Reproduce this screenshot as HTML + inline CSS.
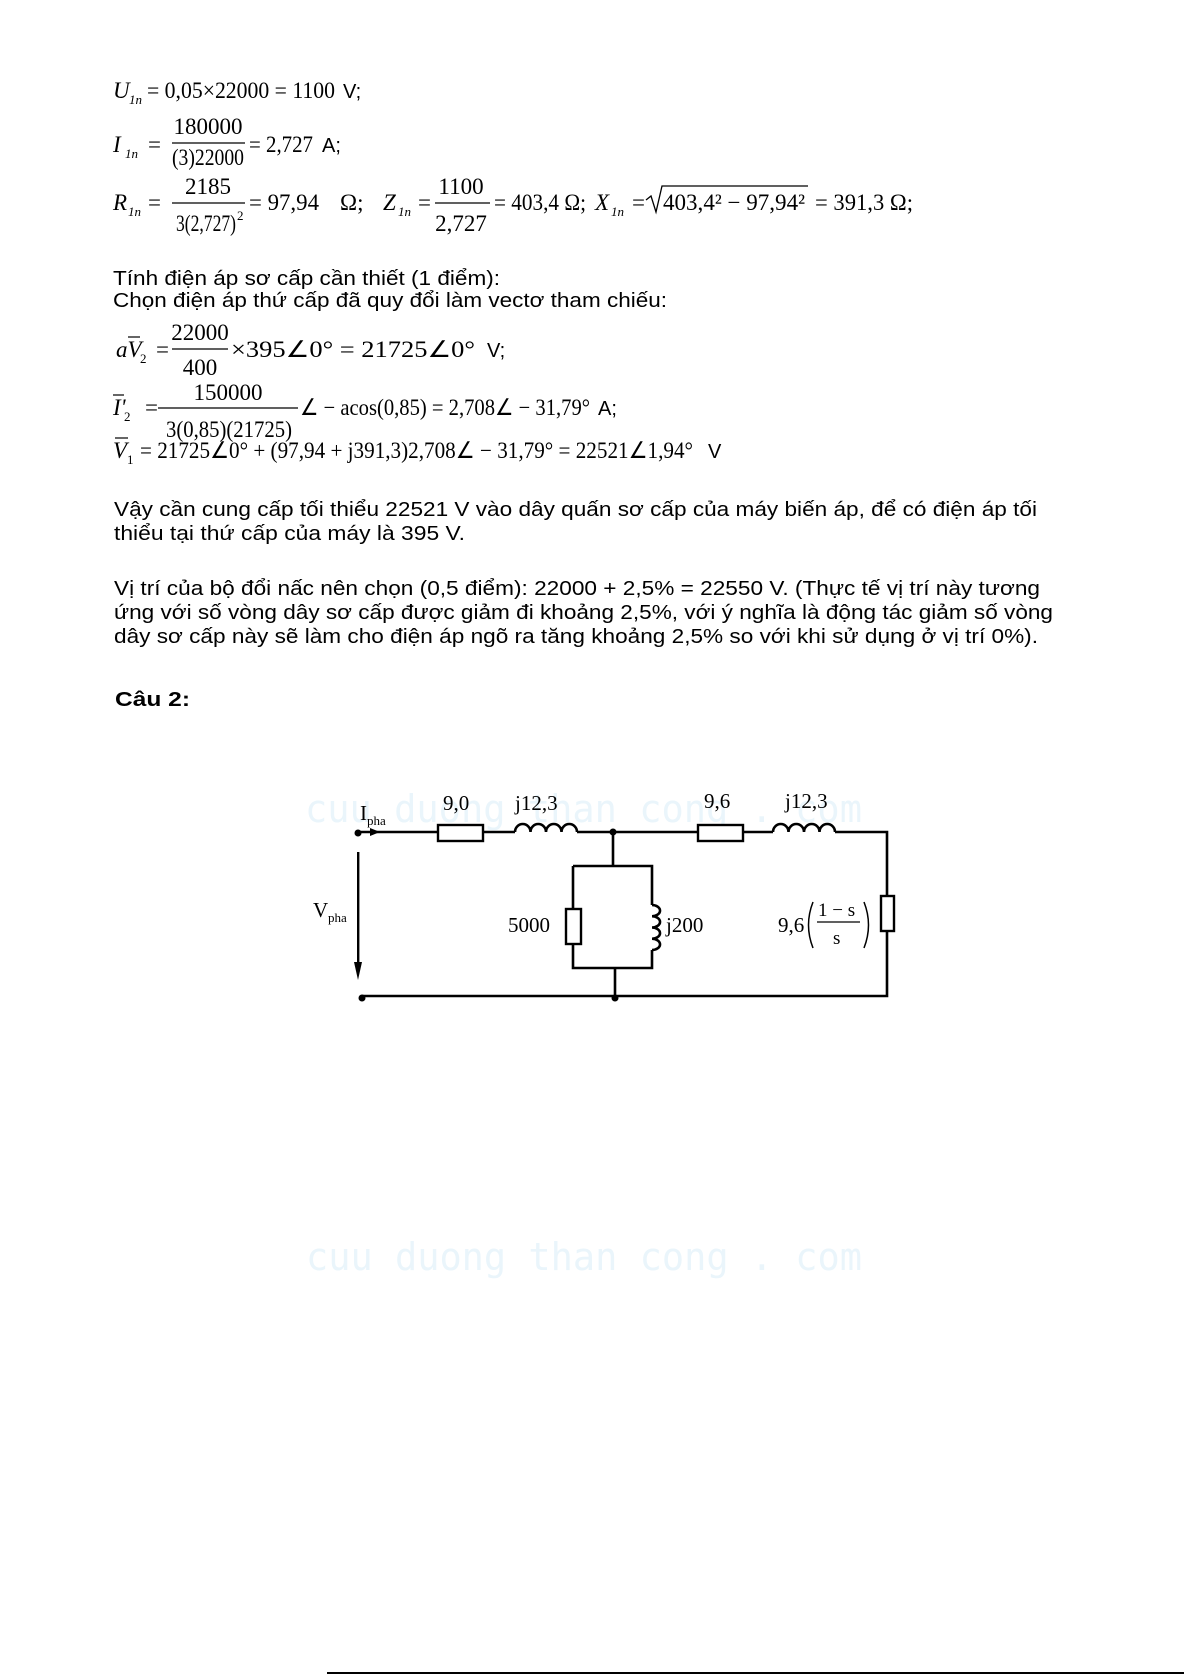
<!DOCTYPE html>
<html><head><meta charset="utf-8"><style>
html,body{margin:0;padding:0;background:#fff;}
svg{display:block;}
.a{font-family:"Liberation Sans",Arial,sans-serif;font-size:20px;fill:#000;}
.t{font-family:"Liberation Serif","Times New Roman",serif;font-size:23px;fill:#000;}
.ti{font-family:"Liberation Serif","Times New Roman",serif;font-size:23px;font-style:italic;fill:#000;}
.s{font-family:"Liberation Serif",serif;font-size:13px;font-style:italic;fill:#000;}
.sn{font-family:"Liberation Serif",serif;font-size:13px;fill:#000;}
.c{font-family:"Liberation Serif",serif;font-size:21px;fill:#000;}
.w{font-family:"DejaVu Sans Mono","Liberation Mono",monospace;font-size:38px;fill:#eaf5fb;}
</style></head><body>
<svg width="1184" height="1679" viewBox="0 0 1184 1679" xmlns="http://www.w3.org/2000/svg">
<rect width="1184" height="1679" fill="#fff"/>
<text class="w" x="305" y="822" textLength="557" lengthAdjust="spacingAndGlyphs">cuu duong than cong . com</text>
<text class="w" x="306" y="1270" textLength="556" lengthAdjust="spacingAndGlyphs">cuu duong than cong . com</text>

<!-- U line -->
<text class="ti" x="113" y="98">U</text><text class="s" x="129" y="104">1n</text>
<text class="t" x="147" y="98" textLength="188" lengthAdjust="spacingAndGlyphs">= 0,05×22000 = 1100</text>
<text class="a" x="343" y="98">V;</text>

<!-- I line -->
<text class="ti" x="113" y="152">I</text><text class="s" x="125" y="158">1n</text>
<text class="t" x="148" y="152">=</text>
<text class="t" x="208" y="134" text-anchor="middle">180000</text>
<line x1="172" y1="143" x2="245" y2="143" stroke="#000" stroke-width="1.3"/>
<text class="t" x="172" y="165" textLength="72" lengthAdjust="spacingAndGlyphs">(3)22000</text>
<text class="t" x="249" y="152" textLength="64" lengthAdjust="spacingAndGlyphs">= 2,727</text>
<text class="a" x="322" y="152">A;</text>

<!-- R line -->
<text class="ti" x="113" y="210">R</text><text class="s" x="128" y="216">1n</text>
<text class="t" x="148" y="210">=</text>
<text class="t" x="208" y="194" text-anchor="middle">2185</text>
<line x1="172" y1="203" x2="245" y2="203" stroke="#000" stroke-width="1.3"/>
<text class="t" x="176" y="231" textLength="60" lengthAdjust="spacingAndGlyphs">3(2,727)</text><text class="sn" x="237" y="220">2</text>
<text class="t" x="249" y="210" textLength="70" lengthAdjust="spacingAndGlyphs">= 97,94</text>
<text class="t" x="340" y="210">Ω;</text>
<text class="ti" x="383" y="210">Z</text><text class="s" x="398" y="216">1n</text>
<text class="t" x="418" y="210">=</text>
<text class="t" x="461" y="194" text-anchor="middle">1100</text>
<line x1="435" y1="203" x2="490" y2="203" stroke="#000" stroke-width="1.3"/>
<text class="t" x="461" y="231" text-anchor="middle">2,727</text>
<text class="t" x="494" y="210" textLength="92" lengthAdjust="spacingAndGlyphs">= 403,4  Ω;</text>
<text class="ti" x="595" y="210">X</text><text class="s" x="611" y="216">1n</text>
<text class="t" x="632" y="210">=</text>
<path d="M646 200 L651 196 L656 212 L662 186 L808 186" fill="none" stroke="#000" stroke-width="1.3"/>
<text class="t" x="663" y="210" textLength="142" lengthAdjust="spacingAndGlyphs">403,4² − 97,94²</text>
<text class="t" x="815" y="210" textLength="98" lengthAdjust="spacingAndGlyphs">= 391,3  Ω;</text>

<text class="a" x="113" y="285" textLength="387" lengthAdjust="spacingAndGlyphs">Tính điện áp sơ cấp cần thiết (1 điểm):</text>
<text class="a" x="113" y="307" textLength="554" lengthAdjust="spacingAndGlyphs">Chọn điện áp thứ cấp đã quy đổi làm vectơ tham chiếu:</text>

<!-- aV2 -->
<text class="ti" x="116" y="357">aV</text><line x1="128" y1="337" x2="140" y2="337" stroke="#000" stroke-width="1.2"/><text class="sn" x="140" y="363">2</text>
<text class="t" x="156" y="357">=</text>
<text class="t" x="200" y="340" text-anchor="middle">22000</text>
<line x1="172" y1="349" x2="228" y2="349" stroke="#000" stroke-width="1.3"/>
<text class="t" x="200" y="375" text-anchor="middle">400</text>
<text class="t" x="231" y="357" textLength="244" lengthAdjust="spacingAndGlyphs">×395∠0° = 21725∠0°</text>
<text class="a" x="487" y="357">V;</text>

<!-- I2 -->
<text class="ti" x="113" y="415">I'</text><line x1="113" y1="395" x2="124" y2="395" stroke="#000" stroke-width="1.2"/><text class="sn" x="124" y="421">2</text>
<text class="t" x="145" y="415">=</text>
<text class="t" x="228" y="400" text-anchor="middle">150000</text>
<line x1="158" y1="408" x2="298" y2="408" stroke="#000" stroke-width="1.3"/>
<text class="t" x="166" y="437" textLength="126" lengthAdjust="spacingAndGlyphs">3(0,85)(21725)</text>
<text class="t" x="300" y="415" textLength="290" lengthAdjust="spacingAndGlyphs">∠ − acos(0,85) = 2,708∠ − 31,79°</text>
<text class="a" x="598" y="415">A;</text>

<!-- V1 -->
<text class="ti" x="113" y="458">V</text><line x1="115" y1="438" x2="128" y2="438" stroke="#000" stroke-width="1.2"/><text class="sn" x="127" y="464">1</text>
<text class="t" x="140" y="458" textLength="553" lengthAdjust="spacingAndGlyphs">= 21725∠0° + (97,94 + j391,3)2,708∠ − 31,79° = 22521∠1,94°</text>
<text class="a" x="708" y="458">V</text>

<!-- paragraphs -->
<text class="a" x="114" y="516" textLength="923" lengthAdjust="spacingAndGlyphs">Vậy cần cung cấp tối thiểu 22521 V vào dây quấn sơ cấp của máy biến áp, để có điện áp tối</text>
<text class="a" x="114" y="540" textLength="351" lengthAdjust="spacingAndGlyphs">thiểu tại thứ cấp của máy là 395 V.</text>
<text class="a" x="114" y="595" textLength="926" lengthAdjust="spacingAndGlyphs">Vị trí của bộ đổi nấc nên chọn (0,5 điểm): 22000 + 2,5% = 22550 V. (Thực tế vị trí này tương</text>
<text class="a" x="114" y="619" textLength="939" lengthAdjust="spacingAndGlyphs">ứng với số vòng dây sơ cấp được giảm đi khoảng 2,5%, với ý nghĩa là động tác giảm số vòng</text>
<text class="a" x="114" y="643" textLength="924" lengthAdjust="spacingAndGlyphs">dây sơ cấp này sẽ làm cho điện áp ngõ ra tăng khoảng 2,5% so với khi sử dụng ở vị trí 0%).</text>
<text class="a" x="115" y="706" font-weight="bold" textLength="75" lengthAdjust="spacingAndGlyphs">Câu 2:</text>

<!-- circuit -->
<g stroke="#000" stroke-width="2.6" fill="none">
<path d="M358 832 H438 M483 832 H515 M577 832 H698 M743 832 H773 M835 832 H887 V996 H362"/>
<path d="M613 832 V866 M573 866 H652 V905 M652 950 V968 H573 V866 M615 968 V998"/>
<path d="M515 832 a7.75 8 0 0 1 15.5 0 a7.75 8 0 0 1 15.5 0 a7.75 8 0 0 1 15.5 0 a7.75 8 0 0 1 15.5 0"/>
<path d="M773 832 a7.75 8 0 0 1 15.5 0 a7.75 8 0 0 1 15.5 0 a7.75 8 0 0 1 15.5 0 a7.75 8 0 0 1 15.5 0"/>
<path d="M652 905 a8 5.6 0 0 1 0 11.25 a8 5.6 0 0 1 0 11.25 a8 5.6 0 0 1 0 11.25 a8 5.6 0 0 1 0 11.25"/>
</g>
<g stroke="#000" stroke-width="2.4" fill="#fff">
<rect x="438" y="825" width="45" height="16"/>
<rect x="698" y="825" width="45" height="16"/>
<rect x="566" y="909" width="15" height="35"/>
<rect x="881" y="896" width="13" height="35"/>
</g>
<g fill="#000">
<circle cx="358" cy="833" r="3.5"/><circle cx="613" cy="832" r="3.5"/>
<circle cx="362" cy="998" r="3.5"/><circle cx="615" cy="998" r="3.5"/>
<path d="M370 828 L380 832 L370 836 Z"/>
<rect x="357" y="852" width="2.4" height="115"/>
<path d="M354 962 L358 980 L362 962 Z"/>
</g>
<text class="c" x="360" y="820">I</text><text class="c" x="367" y="825" style="font-size:13px">pha</text>
<text class="c" x="313" y="917">V</text><text class="c" x="328" y="922" style="font-size:13px">pha</text>
<text class="c" x="443" y="810">9,0</text>
<text class="c" x="515" y="810">j12,3</text>
<text class="c" x="704" y="808">9,6</text>
<text class="c" x="785" y="808">j12,3</text>
<text class="c" x="508" y="932">5000</text>
<text class="c" x="666" y="932">j200</text>
<text class="c" x="778" y="932">9,6</text>
<path d="M813 902 Q804 925 813 948" fill="none" stroke="#000" stroke-width="1.5"/>
<text class="c" x="818" y="916" style="font-size:19px">1 − s</text>
<line x1="817" y1="922" x2="860" y2="922" stroke="#000" stroke-width="1.2"/>
<text class="c" x="833" y="944" style="font-size:19px">s</text>
<path d="M864 902 Q873 925 864 948" fill="none" stroke="#000" stroke-width="1.5"/>

<line x1="327" y1="1673" x2="1184" y2="1673" stroke="#000" stroke-width="2"/>
</svg>
</body></html>
